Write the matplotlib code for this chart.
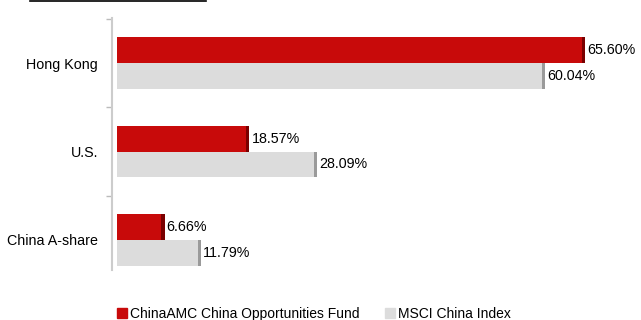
import matplotlib.pyplot as plt
import numpy as np
from matplotlib.lines import Line2D

plt.rcParams['font.family'] = ['Liberation Sans', 'DejaVu Sans']

# datos
regiones = ["Hong Kong", "U.S.", "China A-share"]
fondo = [65.60, 18.57, 6.66]
indice = [60.04, 28.09, 11.79]
series = ["ChinaAMC China Opportunities Fund", "MSCI China Index"]

rojo = "#C80A0A"
rojo_osc = "#7A0000"
gris = "#DCDCDC"
gris_osc = "#9A9A9A"
fs = 10.3

fig = plt.figure(figsize=(6.41, 3.2), dpi=100)
ax = fig.add_axes([112/641, 50/320, 508/641, 252/320])

y = np.arange(len(regiones))
h = 0.29
cap = 0.45

ax.barh(y - h/2, fondo, height=h, color=rojo, zorder=2)
ax.barh(y + h/2, indice, height=h, color=gris, zorder=2)
# bordes oscuros (efecto 3D)
ax.barh(y - h/2, [cap]*3, left=np.array(fondo) - cap, height=h, color=rojo_osc, zorder=3)
ax.barh(y + h/2, [cap]*3, left=np.array(indice) - cap, height=h, color=gris_osc, zorder=3)

for i in range(len(regiones)):
    ax.text(fondo[i] + 0.3, y[i] - h/2, f"{fondo[i]:.2f}%", va="center", ha="left", fontsize=fs)
    ax.text(indice[i] + 0.3, y[i] + h/2, f"{indice[i]:.2f}%", va="center", ha="left", fontsize=fs)

ax.set_xlim(-0.7, 70.5)
ax.set_ylim(2.34, -0.51)
ax.set_yticks(y)
ax.set_yticklabels(regiones, fontsize=fs)
ax.set_yticks([-0.5, 0.5, 1.5], minor=True)
ax.tick_params(axis="y", which="major", length=0, pad=10)
ax.tick_params(axis="y", which="minor", length=4, color="#BBBBBB", width=1)
ax.set_xticks([])
for s in ["top", "right", "bottom"]:
    ax.spines[s].set_visible(False)
ax.spines["left"].set_color("#CCCCCC")
ax.spines["left"].set_linewidth(1.5)

# linea del titulo cortado
fig.add_artist(Line2D([30/641, 206/641], [319.5/320, 319.5/320], color="black", lw=1.2))

handles = [Line2D([], [], marker="s", linestyle="none", markersize=7, color=rojo),
           Line2D([], [], marker="s", linestyle="none", markersize=7, color=gris)]
fig.legend(handles, series, loc="center left", bbox_to_anchor=(116/641, 6/320), ncol=2,
           frameon=False, fontsize=10, handlelength=0.8, handletextpad=0.2, columnspacing=1.8,
           borderaxespad=0, borderpad=0)

fig.savefig("out.png", dpi=100)
